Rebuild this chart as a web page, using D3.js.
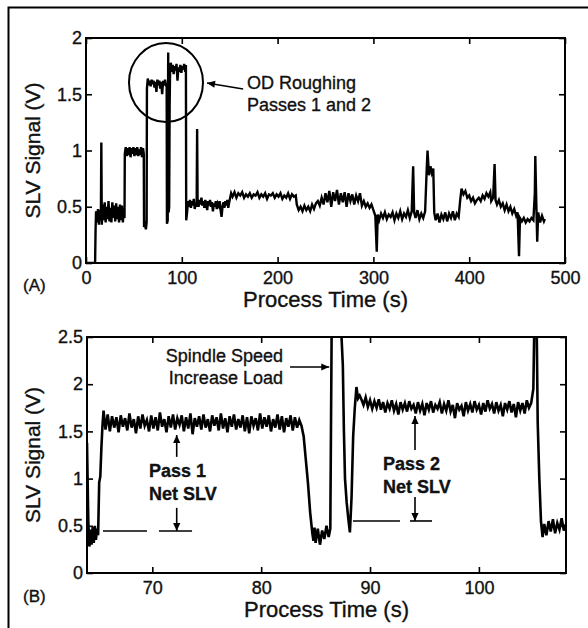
<!DOCTYPE html>
<html><head><meta charset="utf-8">
<script src="https://cdn.jsdelivr.net/npm/d3@7"></script>
<style>
body{margin:0;background:#fff}
svg{display:block}
text{font-family:"Liberation Sans",Arial,Helvetica,sans-serif;fill:#111;stroke:#111;stroke-width:0.35px}
</style>
</head><body>
<svg id="c" width="588" height="628"></svg>
<script>
// ---------- Panel A data: whole process ----------
const timeA = [
0,9.5,10,10.5,11.5,12.5,13.5,14.5,15.5,16,
16.5,17.5,18.5,19.5,20.5,21.5,22.5,23.5,24.5,25.5,
26.5,27.5,28.5,29.5,30.5,31.5,32.5,33.5,34.5,35.5,
36.5,37.5,38.5,39.5,40.2,40.5,41.5,42.5,43.5,44.5,
45.5,46.5,47.5,48.5,49.5,50.5,51.5,52.5,53.5,54.5,
55.5,56.5,57.5,58.5,59.5,60.3,60.6,61.5,62.5,63.3,
63.6,64.5,65.5,66.5,67.5,68.5,69.5,70.5,71.5,72.5,
73.5,74.5,75.5,76.5,77.5,78.5,79.5,80.5,81.5,82.5,
83.5,84.2,84.5,85.3,85.8,86.3,86.8,87.3,87.8,88.5,
89.5,90.5,91.5,92.5,93.5,94.5,95.5,96.5,97.5,98.5,
99.5,100.5,101.5,102.5,103.5,104.3,104.6,105.5,106.5,107.5,
108.5,109.5,110.5,111.5,112.5,113.5,114.5,115.5,116,116.5,
117.5,118.5,119.5,120.5,121.5,122.5,123.5,124.5,125.5,126.5,
127.5,128.5,129.5,130.5,131.5,132.5,133.5,134.5,135.5,136.5,
137.5,138.5,139.5,140.5,141.5,142.5,143.5,144.5,145.5,146.5,
147.5,148.5,149.5,150.5,151.5,153,155,157,159,161,
163,165,167,169,171,173,175,177,179,181,
183,185,187,189,191,193,195,197,199,201,
203,205,207,209,211,213,215,217,219,220,
222,224,226,228,230,232,234,236,238,240,
242,244,246,248,250,252,254,256,258,260,
262,264,266,268,270,272,274,276,278,280,
282,284,286,288,290,292,294,296,298,300,
302,303.5,304.5,306,308,310,312,314,316,318,
320,322,324,326,328,330,332,334,336,338,
340,341.5,342.5,344,346,348,350,352,354,355.5,
356.5,358,359.5,361,362.5,363.5,365,367,369,371,
373,375,377,379,381,383,385,387,389,390.5,
392,394,396,398,400,402,404,406,408,410,
412,414,416,418,420,422,423,425,426.5,427.5,
429,431,433,435,437,439,441,443,445,447,
449,450.5,452,453,455,457,459,461,463,465,
467,468.5,469,470,471,472,474,476,478,479
];
const signalA = [
0,0,0.30,0.46,0.36,0.48,0.34,0.47,0.38,1.07,
0.34,0.52,0.38,0.54,0.36,0.50,0.39,0.55,0.37,0.49,
0.36,0.54,0.40,0.51,0.37,0.53,0.39,0.50,0.36,0.52,
0.38,0.51,0.36,0.47,0.40,0.97,1.03,0.95,1.02,0.96,
1.03,0.94,1.02,0.97,1.03,0.95,1.02,0.96,1.03,0.95,
1.01,0.96,1.03,0.94,1.02,0.97,0.32,0.34,0.30,0.36,
1.55,1.64,1.58,1.62,1.57,1.63,1.59,1.62,1.56,1.61,
1.52,1.63,1.58,1.62,1.55,1.61,1.50,1.62,1.58,1.63,
1.57,1.60,0.35,0.38,1.87,0.45,0.50,1.40,1.72,1.78,
1.70,1.76,1.68,1.75,1.71,1.77,1.62,1.74,1.70,1.76,
1.69,1.75,1.72,1.77,1.70,1.76,0.38,0.45,0.55,0.50,
0.56,0.49,0.55,0.51,0.57,0.48,0.53,0.50,1.19,0.54,
0.50,0.56,0.52,0.58,0.51,0.55,0.49,0.56,0.52,0.47,
0.55,0.51,0.56,0.50,0.54,0.46,0.53,0.50,0.55,0.48,
0.53,0.51,0.55,0.47,0.41,0.50,0.54,0.49,0.55,0.51,
0.56,0.49,0.54,0.58,0.62,0.59,0.63,0.58,0.62,0.60,
0.63,0.58,0.61,0.59,0.62,0.58,0.61,0.60,0.63,0.58,
0.61,0.59,0.62,0.57,0.61,0.60,0.62,0.58,0.61,0.59,
0.62,0.57,0.60,0.58,0.62,0.57,0.61,0.59,0.60,0.52,
0.47,0.50,0.46,0.51,0.47,0.50,0.46,0.52,0.48,0.53,
0.55,0.51,0.58,0.52,0.62,0.54,0.64,0.50,0.63,0.55,
0.65,0.52,0.62,0.54,0.63,0.50,0.62,0.55,0.61,0.52,
0.60,0.55,0.62,0.51,0.55,0.50,0.53,0.49,0.52,0.47,
0.42,0.10,0.43,0.38,0.44,0.40,0.45,0.39,0.43,0.41,
0.45,0.38,0.44,0.40,0.46,0.39,0.44,0.41,0.47,0.40,
0.46,0.86,0.45,0.40,0.47,0.39,0.44,0.40,0.46,0.80,
1.00,0.78,0.86,0.80,0.84,0.45,0.38,0.44,0.36,0.43,
0.39,0.45,0.37,0.44,0.40,0.46,0.38,0.44,0.41,0.55,
0.66,0.61,0.64,0.58,0.60,0.55,0.58,0.53,0.56,0.58,
0.55,0.60,0.57,0.62,0.59,0.63,0.55,0.58,0.88,0.56,
0.52,0.56,0.50,0.53,0.47,0.52,0.46,0.50,0.44,0.48,
0.42,0.45,0.06,0.40,0.37,0.40,0.36,0.39,0.37,0.40,
0.38,0.62,0.95,0.55,0.19,0.45,0.36,0.42,0.37,0.39
];

// ---------- Panel B data: OD roughing passes 1 and 2 ----------
const timeB = [
64.0,64.12,64.22,64.32,64.42,64.52,64.62,64.72,64.82,64.92,65.02,65.12,65.22,65.32,65.42,65.52,
65.7,65.9,66.1,66.3,66.5,66.7,66.9,67.1,67.3,67.5,
67.7,67.9,68.1,68.3,68.5,68.7,68.9,69.1,69.3,69.5,
69.7,69.9,70.1,70.3,70.5,70.7,70.9,71.1,71.3,71.5,
71.7,71.9,72.1,72.3,72.5,72.7,72.9,73.1,73.3,73.5,
73.7,73.9,74.1,74.3,74.5,74.7,74.9,75.1,75.3,75.5,
75.7,75.9,76.1,76.3,76.5,76.7,76.9,77.1,77.3,77.5,
77.7,77.9,78.1,78.3,78.5,78.7,78.9,79.1,79.3,79.5,
79.7,79.9,80.1,80.3,80.5,80.7,80.9,81.1,81.3,81.5,
81.7,81.9,82.1,82.3,82.5,82.7,82.9,83.1,83.3,83.5,83.7,
83.9,84.1,84.3,84.5,84.7,84.8,84.9,85.0,85.2,85.4,85.6,85.8,86.0,86.2,86.35,
86.48,87.3,87.5,87.6,87.7,87.85,88.0,88.15,88.3,88.45,88.6,88.75,88.9,89.05,
89.2,89.4,89.6,89.8,90.0,90.2,90.4,90.6,90.8,91.0,
91.2,91.4,91.6,91.8,92.0,92.2,92.4,92.6,92.8,93.0,
93.2,93.4,93.6,93.8,94.0,94.2,94.4,94.6,94.8,95.0,
95.2,95.4,95.6,95.8,96.0,96.2,96.4,96.6,96.8,97.0,
97.2,97.4,97.6,97.8,98.0,98.2,98.4,98.6,98.8,99.0,
99.2,99.4,99.6,99.8,100.0,100.2,100.4,100.6,100.8,101.0,
101.2,101.4,101.6,101.8,102.0,102.2,102.4,102.6,102.8,103.0,
103.2,103.4,103.6,103.8,104.0,104.2,104.4,104.6,
104.8,105.0,105.1,105.3,105.4,105.55,105.7,105.85,106.0,106.2,
106.4,106.6,106.8,107.0,107.2,107.4,107.6,107.8,108.0
];
const signalB = [
1.38,0.55,0.28,0.46,0.30,0.49,0.32,0.50,0.35,0.47,0.40,0.96,1.02,1.32,1.56,1.72,
1.52,1.68,1.50,1.66,1.54,1.65,1.49,1.67,1.55,1.64,
1.51,1.69,1.54,1.63,1.48,1.66,1.53,1.68,1.56,1.62,
1.50,1.67,1.53,1.65,1.51,1.70,1.55,1.63,1.49,1.66,
1.54,1.68,1.52,1.64,1.57,1.67,1.50,1.65,1.53,1.69,
1.47,1.64,1.55,1.66,1.52,1.68,1.54,1.63,1.50,1.67,
1.56,1.65,1.51,1.69,1.53,1.64,1.49,1.66,1.55,1.68,
1.52,1.63,1.54,1.67,1.50,1.65,1.48,1.66,1.56,1.64,
1.51,1.69,1.53,1.65,1.55,1.67,1.50,1.63,1.54,1.68,
1.52,1.66,1.49,1.64,1.55,1.67,1.51,1.65,1.54,1.62,1.56,
1.45,1.20,0.95,0.64,0.42,0.34,0.48,0.32,0.47,0.30,0.45,0.36,0.50,0.38,0.47,
2.70,2.70,2.20,1.50,1.00,0.75,0.58,0.43,0.80,1.45,1.75,1.97,1.85,1.88,
1.84,1.78,1.86,1.76,1.83,1.74,1.82,1.75,1.84,1.73,
1.81,1.70,1.80,1.74,1.83,1.72,1.79,1.68,1.81,1.73,
1.80,1.71,1.82,1.74,1.78,1.69,1.81,1.72,1.79,1.67,
1.80,1.73,1.82,1.70,1.78,1.74,1.81,1.69,1.79,1.72,
1.83,1.71,1.78,1.64,1.80,1.73,1.77,1.66,1.81,1.72,
1.79,1.70,1.82,1.73,1.78,1.68,1.80,1.71,1.83,1.74,
1.79,1.69,1.81,1.72,1.78,1.66,1.80,1.73,1.82,1.70,
1.79,1.65,1.81,1.72,1.80,1.69,1.83,1.75,
1.80,1.95,2.70,2.70,1.60,1.00,0.55,0.38,0.52,0.40,
0.55,0.44,0.57,0.42,0.53,0.46,0.58,0.45,0.52
];

// ---------- Ticks ----------
const xTicksA = [0,100,200,300,400,500];
const xTickLabelsA = ["0","100","200","300","400","500"];
const yTicksA = [0,0.5,1,1.5,2];
const yTickLabelsA = ["0","0.5","1","1.5","2"];
const xTicksB = [70,80,90,100];
const xTickLabelsB = ["70","80","90","100"];
const yTicksB = [0,0.5,1,1.5,2,2.5];
const yTickLabelsB = ["0","0.5","1","1.5","2","2.5"];

// ---------- Texts ----------
const xTitle = "Process Time (s)";
const yTitle = "SLV Signal (V)";

const svg = d3.select("#c");
const defs = svg.append("defs");
defs.append("marker").attr("id","ah").attr("viewBox","0 0 10 10")
  .attr("refX",10).attr("refY",5).attr("markerWidth",9).attr("markerHeight",8)
  .attr("markerUnits","userSpaceOnUse").attr("orient","auto")
  .append("path").attr("d","M0,0.5 L10,5 L0,9.5 Z").attr("fill","#000");

// outer frame (top and left edges)
svg.append("path").attr("d","M8.5,628 V7.5 H588")
  .attr("fill","none").attr("stroke","#000").attr("stroke-width",2);

function panel(o){
  const x = d3.scaleLinear().domain(o.xDomain).range([o.left,o.right]);
  const y = d3.scaleLinear().domain(o.yDomain).range([o.bottom,o.top]);
  const g = svg.append("g");
  defs.append("clipPath").attr("id","clip"+o.id).append("rect")
    .attr("x",o.left).attr("y",o.top).attr("width",o.right-o.left).attr("height",o.bottom-o.top);
  const data = o.t.map((t,i)=>[t,o.v[i]]);
  g.append("path").datum(data).attr("clip-path",`url(#clip${o.id})`)
    .attr("fill","none").attr("stroke","#000").attr("stroke-width",o.lw)
    .attr("stroke-linejoin","miter")
    .attr("d", d3.line().x(d=>x(d[0])).y(d=>y(d[1])));

  const style = sel => {
    sel.select(".domain").remove();
    sel.selectAll(".tick line").attr("stroke","#000").attr("stroke-width",1.6);
    sel.selectAll(".tick text").attr("font-size",18).attr("font-family",null).attr("fill","#111");
    sel.attr("font-family",null);
  };
  g.append("g").attr("transform",`translate(0,${o.bottom})`)
    .call(d3.axisBottom(x).tickValues(o.xTicks).tickSize(-6).tickPadding(8)
      .tickFormat((d,i)=>o.xLabels[i])).call(style);
  g.append("g").attr("transform",`translate(0,${o.top})`)
    .call(d3.axisTop(x).tickValues(o.xTicks).tickSize(-6).tickFormat("")).call(style);
  g.append("g").attr("transform",`translate(${o.left},0)`)
    .call(d3.axisLeft(y).tickValues(o.yTicks).tickSize(-6).tickPadding(4)
      .tickFormat((d,i)=>o.yLabels[i])).call(style);
  g.append("g").attr("transform",`translate(${o.right},0)`)
    .call(d3.axisRight(y).tickValues(o.yTicks).tickSize(-6).tickFormat("")).call(style);

  g.append("rect").attr("x",o.left).attr("y",o.top)
    .attr("width",o.right-o.left).attr("height",o.bottom-o.top)
    .attr("fill","none").attr("stroke","#000").attr("stroke-width",2);

  g.append("text").attr("x",(o.left+o.right)/2).attr("y",o.xTitleY)
    .attr("text-anchor","middle").attr("font-size",22).text(xTitle);
  g.append("text").attr("transform",`translate(40,${(o.top+o.bottom)/2}) rotate(-90)`)
    .attr("text-anchor","middle").attr("font-size",21).text(yTitle);
  g.append("text").attr("x",23).attr("y",o.labelY).attr("font-size",17).text(o.label);
  return {x,y,g};
}

const A = panel({id:"A",t:timeA,v:signalA,xDomain:[0,500],yDomain:[0,2],
  left:86,right:565,top:38,bottom:263,lw:2.4,
  xTicks:xTicksA,xLabels:xTickLabelsA,yTicks:yTicksA,yLabels:yTickLabelsA,
  xTitleY:307,labelY:291,label:"(A)"});

const B = panel({id:"B",t:timeB,v:signalB,xDomain:[64,108],yDomain:[0,2.5],
  left:87,right:566,top:337,bottom:573,lw:2.6,
  xTicks:xTicksB,xLabels:xTickLabelsB,yTicks:yTicksB,yLabels:yTickLabelsB,
  xTitleY:617,labelY:602,label:"(B)"});

// ---------- Panel A annotation ----------
{
  const {x,y,g} = A;
  g.append("ellipse").attr("cx",x(83.5)).attr("cy",y(1.604)).attr("rx",37).attr("ry",39.5)
    .attr("fill","none").attr("stroke","#000").attr("stroke-width",2);
  g.append("line").attr("x1",x(164)).attr("y1",y(1.547)).attr("x2",x(126.3)).attr("y2",y(1.6))
    .attr("stroke","#000").attr("stroke-width",1.6).attr("marker-end","url(#ah)");
  g.append("text").attr("x",x(168)).attr("y",y(1.547)).attr("font-size",18).text("OD Roughing");
  g.append("text").attr("x",x(168)).attr("y",y(1.351)).attr("font-size",18).text("Passes 1 and 2");
}

// ---------- Panel B annotations ----------
{
  const {x,y,g} = B;
  const ln = (t1,v1,t2,v2,arrow) => {
    const l = g.append("line").attr("x1",x(t1)).attr("y1",y(v1)).attr("x2",x(t2)).attr("y2",y(v2))
      .attr("stroke","#000").attr("stroke-width",1.6);
    if (arrow) l.attr("marker-end","url(#ah)");
  };
  // Spindle speed
  g.append("text").attr("x",x(82.0)).attr("y",y(2.235)).attr("text-anchor","end").attr("font-size",18).text("Spindle Speed");
  g.append("text").attr("x",x(82.0)).attr("y",y(2.002)).attr("text-anchor","end").attr("font-size",18).text("Increase Load");
  ln(82.65,2.182,86.25,2.182,true);
  // Pass 1
  g.append("text").attr("x",x(69.7)).attr("y",y(1.017)).attr("font-size",18).attr("font-weight","bold").attr("stroke-width",0).text("Pass 1");
  g.append("text").attr("x",x(69.7)).attr("y",y(0.773)).attr("font-size",18).attr("font-weight","bold").attr("stroke-width",0).text("Net SLV");
  ln(72.24,1.23,72.24,1.462,true);
  ln(72.24,0.69,72.24,0.445,true);
  ln(65.47,0.445,69.51,0.445,false);
  ln(70.61,0.445,73.65,0.445,false);
  // Pass 2
  g.append("text").attr("x",x(91.19)).attr("y",y(1.091)).attr("font-size",18).attr("font-weight","bold").attr("stroke-width",0).text("Pass 2");
  g.append("text").attr("x",x(91.19)).attr("y",y(0.847)).attr("font-size",18).attr("font-weight","bold").attr("stroke-width",0).text("Net SLV");
  ln(94.13,1.303,94.13,1.663,true);
  ln(94.13,0.805,94.13,0.551,true);
  ln(88.43,0.551,92.75,0.551,false);
  ln(93.67,0.551,95.69,0.551,false);
}
</script>
</body></html>
